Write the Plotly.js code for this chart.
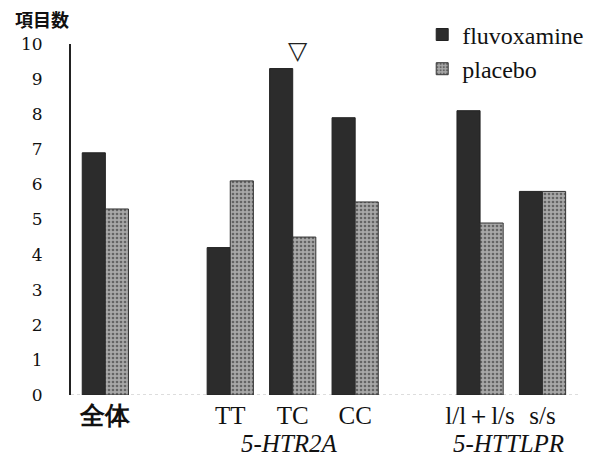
<!DOCTYPE html>
<html>
<head>
<meta charset="utf-8">
<script src="https://cdn.plot.ly/plotly-3.0.1.min.js"></script>
<style>
  html, body { margin: 0; padding: 0; background: #fff; }
  #chart { width: 612px; height: 460px; }
</style>
</head>
<body>
<div id="chart"></div>
<script>
// Group labels and their slot positions (empty slots separate the groups)
const categories = ['全体', 'TT', 'TC', 'CC', 'l/l＋l/s', 's/s'];
const slots = [0, 2, 3, 4, 6, 7];
const fluvoxamine = [6.9, 4.2, 9.3, 7.9, 8.1, 5.8];
const placebo = [5.3, 6.1, 4.5, 5.5, 4.9, 5.8];
const yTicks = [0, 1, 2, 3, 4, 5, 6, 7, 8, 9, 10];

const serif = 'Liberation Serif, DejaVu Serif, serif';
const cjk = 'Noto Sans CJK JP, sans-serif';

const tickText = categories.map((c, i) =>
  i === 0 ? '<b>' + c + '</b>' : c);

const traces = [
  {
    type: 'bar', name: 'fluvoxamine', x: slots, y: fluvoxamine,
    marker: { color: '#2c2c2c', line: { color: '#222', width: 1 } }
  },
  {
    type: 'bar', name: 'placebo', x: slots, y: placebo,
    marker: {
      color: '#9c9c9c',
      line: { color: '#333', width: 1 },
      pattern: { shape: '.', fgcolor: '#646464', bgcolor: '#a8a8a8', size: 4, solidity: 0.35 }
    }
  }
];

const layout = {
  width: 612, height: 460,
  margin: { l: 71, r: 32, t: 42, b: 65 },
  paper_bgcolor: '#fff', plot_bgcolor: '#fff',
  barmode: 'group', bargap: 0.26, bargroupgap: 0,
  showlegend: true,
  legend: {
    x: 0.69, y: 1.09, xanchor: 'left', yanchor: 'top',
    font: { family: serif, size: 24, color: '#111' },
    bgcolor: 'rgba(0,0,0,0)', itemwidth: 30, tracegroupgap: 0
  },
  xaxis: {
    range: [-0.55, 7.6],
    tickmode: 'array', tickvals: slots, ticktext: tickText,
    tickfont: { family: serif, size: 25, color: '#111' },
    showgrid: false, zeroline: false, showline: false, ticks: '',
    ticklabelstandoff: 3
  },
  yaxis: {
    range: [0, 10],
    tickmode: 'array', tickvals: yTicks,
    tickfont: { family: 'DejaVu Serif, serif', size: 17, color: '#111' },
    showgrid: false, zeroline: false,
    showline: true, linecolor: '#222', linewidth: 2,
    ticks: '', ticklabelstandoff: 23
  },
  shapes: [
    { type: 'line', xref: 'paper', yref: 'y', x0: 0, x1: 1, y0: 0, y1: 0,
      line: { color: '#bbb', width: 1, dash: 'dot' }, layer: 'below' }
  ],
  annotations: [
    { text: '<b>項目数</b>', xref: 'paper', yref: 'paper', x: -0.057, y: 1.072,
      xanchor: 'center', yanchor: 'middle', showarrow: false,
      font: { family: cjk, size: 18, color: '#111' } },
    { text: '▽', xref: 'x', yref: 'y', x: 3.09, y: 9.82,
      xanchor: 'center', yanchor: 'middle', showarrow: false,
      font: { family: 'DejaVu Sans, sans-serif', size: 25, color: '#222' } },
    { text: '<i>5-HTR2A</i>', xref: 'x', yref: 'paper', x: 2.95, y: -0.138,
      xanchor: 'center', yanchor: 'middle', showarrow: false,
      font: { family: serif, size: 25, color: '#111' } },
    { text: '<i>5-HTTLPR</i>', xref: 'x', yref: 'paper', x: 6.45, y: -0.138,
      xanchor: 'center', yanchor: 'middle', showarrow: false,
      font: { family: serif, size: 25, color: '#111' } }
  ]
};

Plotly.newPlot('chart', traces, layout, { displayModeBar: false, staticPlot: true });
</script>
</body>
</html>
